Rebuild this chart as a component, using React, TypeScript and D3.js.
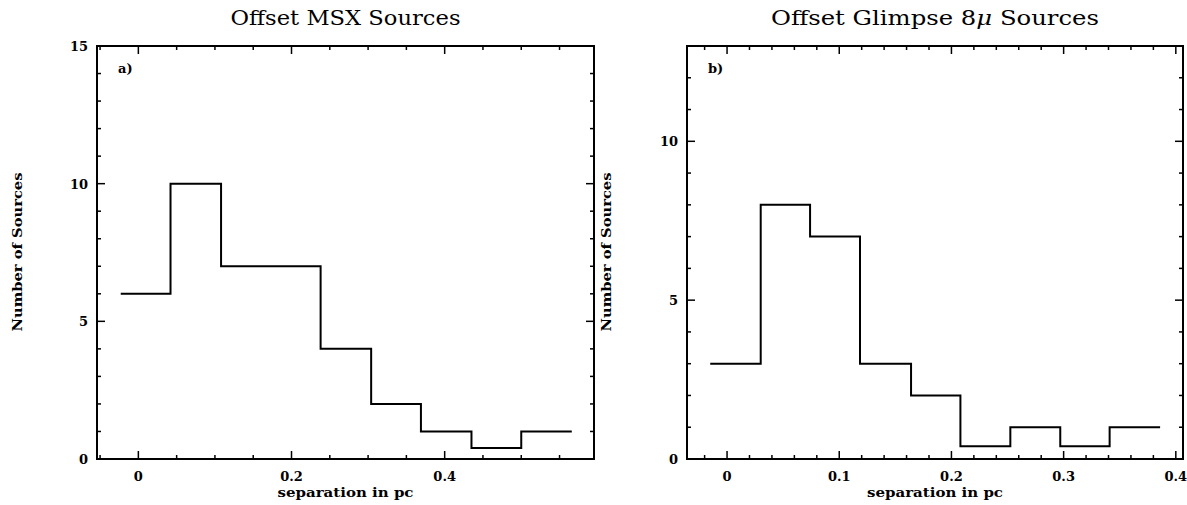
import React from "react";
import * as d3 from "d3";

const titleA = "Offset MSX Sources";
const titleB = "Offset Glimpse 8";
const xLabel = "separation in pc";
const yLabel = "Number of Sources";

const edgesA = [-0.023, 0.042, 0.108, 0.173, 0.238, 0.304, 0.369, 0.435, 0.5, 0.566];
const valuesA = [6, 10, 7, 7, 4, 2, 1, 0.4, 1];
const xMajorA = [0, 0.2, 0.4];
const yMajorA = [0, 5, 10, 15];

const edgesB = [-0.015, 0.03, 0.074, 0.1185, 0.164, 0.208, 0.2525, 0.297, 0.341, 0.386];
const valuesB = [3, 8, 7, 3, 2, 0.4, 1, 0.4, 1];
const xMajorB = [0, 0.1, 0.2, 0.3, 0.4];
const yMajorB = [0, 5, 10];

type PanelProps = {
  left: number;
  right: number;
  xDomain: [number, number];
  yDomain: [number, number];
  edges: number[];
  values: number[];
  xMajor: number[];
  xMinorStep: number;
  yMajor: number[];
  title: React.ReactNode;
  titleLen: number;
  tag: string;
  ylabelX: number;
};

const TOP = 46;
const BOTTOM = 459;

function Panel(p: PanelProps) {
  const x = d3.scaleLinear().domain(p.xDomain).range([p.left, p.right]);
  const y = d3.scaleLinear().domain(p.yDomain).range([BOTTOM, TOP]);
  const pts: [number, number][] = [];
  p.values.forEach((v, i) => {
    pts.push([p.edges[i], v]);
    pts.push([p.edges[i + 1], v]);
  });
  const line = d3.line<[number, number]>().x((d) => x(d[0])).y((d) => y(d[1]));
  const xMinor: number[] = [];
  const s = p.xMinorStep;
  for (let k = Math.ceil(p.xDomain[0] / s - 1e-6); k * s <= p.xDomain[1] + 1e-9; k++) xMinor.push(+(k * s).toFixed(6));
  const yMinor: number[] = [];
  for (let k = Math.ceil(p.yDomain[0]); k <= p.yDomain[1]; k++) yMinor.push(k);
  const isMajorX = (v: number) => p.xMajor.some((m) => Math.abs(m - v) < 1e-6);
  const isMajorY = (v: number) => p.yMajor.some((m) => Math.abs(m - v) < 1e-6);
  const cx = (p.left + p.right) / 2;
  const tickFont = { fontFamily: "DejaVu Serif", fontWeight: "bold" as const, fontSize: 13 };
  return (
    <g>
      <text x={cx} y={25} textAnchor="middle" fontFamily="DejaVu Serif" fontSize={20} textLength={p.titleLen} lengthAdjust="spacingAndGlyphs">
        {p.title}
      </text>
      {xMinor.map((v) => {
        const L = isMajorX(v) ? 8 : 4;
        return (
          <g key={"x" + v}>
            <line x1={x(v)} x2={x(v)} y1={BOTTOM} y2={BOTTOM - L} stroke="#000" strokeWidth={1.5} />
            <line x1={x(v)} x2={x(v)} y1={TOP} y2={TOP + L} stroke="#000" strokeWidth={1.5} />
          </g>
        );
      })}
      {yMinor.map((v) => {
        const L = isMajorY(v) ? 8 : 4;
        return (
          <g key={"y" + v}>
            <line x1={p.left} x2={p.left + L} y1={y(v)} y2={y(v)} stroke="#000" strokeWidth={1.5} />
            <line x1={p.right} x2={p.right - L} y1={y(v)} y2={y(v)} stroke="#000" strokeWidth={1.5} />
          </g>
        );
      })}
      <rect x={p.left} y={TOP} width={p.right - p.left} height={BOTTOM - TOP} fill="none" stroke="#000" strokeWidth={2} />
      <path d={line(pts) || ""} fill="none" stroke="#000" strokeWidth={2} />
      {p.xMajor.map((v) => (
        <text key={"xl" + v} x={x(v)} y={481} textAnchor="middle" {...tickFont}>
          {String(v)}
        </text>
      ))}
      {p.yMajor.map((v) => (
        <text key={"yl" + v} x={p.left - 9} y={y(v) + 5} textAnchor="end" {...tickFont}>
          {String(v)}
        </text>
      ))}
      <text x={p.left + 21} y={73} {...tickFont}>{p.tag}</text>
      <text x={cx} y={497} textAnchor="middle" {...tickFont} textLength={136} lengthAdjust="spacingAndGlyphs">
        {xLabel}
      </text>
      <text
        transform={`translate(${p.ylabelX},252) rotate(-90)`}
        textAnchor="middle"
        {...tickFont}
        textLength={159}
        lengthAdjust="spacingAndGlyphs"
      >
        {yLabel}
      </text>
    </g>
  );
}

export default function App() {
  return (
    <svg width={1187} height={505} style={{ position: "absolute", left: 0, top: 0, background: "#fff" }}>
      <rect width={1187} height={505} fill="#fff" />
      <Panel
        left={97}
        right={594}
        xDomain={[-0.054, 0.595]}
        yDomain={[0, 15]}
        edges={edgesA}
        values={valuesA}
        xMajor={xMajorA}
        xMinorStep={0.05}
        yMajor={yMajorA}
        title={titleA}
        titleLen={230}
        tag="a)"
        ylabelX={22}
      />
      <Panel
        left={687}
        right={1183}
        xDomain={[-0.0357, 0.4064]}
        yDomain={[0, 13]}
        edges={edgesB}
        values={valuesB}
        xMajor={xMajorB}
        xMinorStep={0.02}
        yMajor={yMajorB}
        title={
          <>
            {titleB}
            <tspan fontStyle="italic">μ</tspan>
            {" Sources"}
          </>
        }
        titleLen={328}
        tag="b)"
        ylabelX={611}
      />
    </svg>
  );
}
